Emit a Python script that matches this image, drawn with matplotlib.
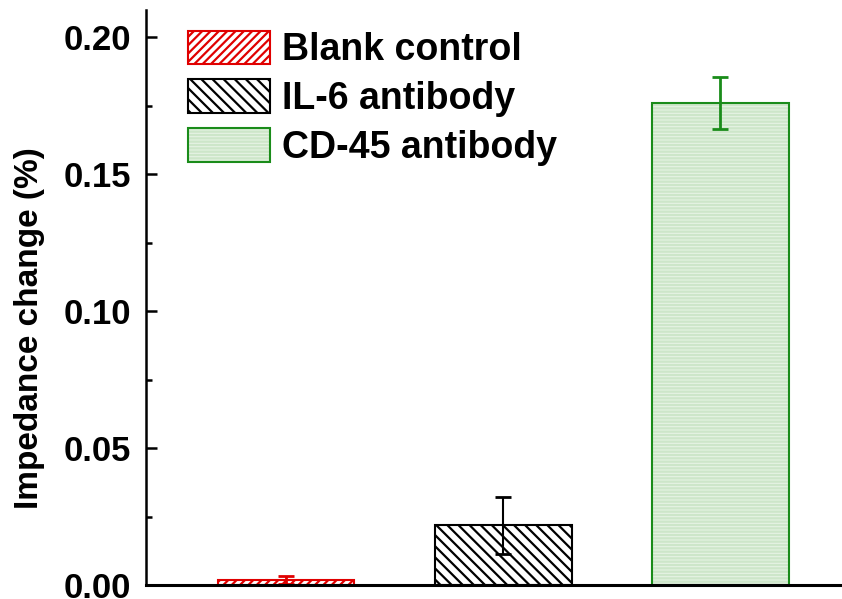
import numpy as np
import matplotlib
matplotlib.use("Agg")
import matplotlib.pyplot as plt
from matplotlib.patches import Patch
from matplotlib.legend_handler import HandlerTuple

# data
groups = ["Blank control", "IL-6 antibody", "CD-45 antibody"]
values = [0.0018, 0.0218, 0.176]
errors = [0.0015, 0.0105, 0.0095]
yticks = [0.00, 0.05, 0.10, 0.15, 0.20]

plt.rcParams['font.family'] = ['Liberation Sans', 'DejaVu Sans']
plt.rcParams['font.weight'] = 'bold'
plt.rcParams['hatch.linewidth'] = 1.6

fig = plt.figure(figsize=(8.42, 5.99), dpi=100)
ax = fig.add_axes([0.1734, 0.0234, 0.8266, 0.96])

x = np.arange(1, len(groups) + 1)
w = 0.63

# blank control - red hatch
ax.bar(x[0], values[0], w, facecolor='white', edgecolor='#e00000',
       hatch='////', linewidth=1.5)
ax.errorbar(x[0], values[0], yerr=errors[0], color='#e00000', capsize=6,
            elinewidth=2, capthick=2, fmt='none')

# IL-6 - black hatch
ax.bar(x[1], values[1], w, facecolor='white', edgecolor='black',
       hatch='\\\\\\', linewidth=1.5)
ax.errorbar(x[1], values[1], yerr=errors[1], color='black', capsize=6,
            elinewidth=1.5, capthick=2, fmt='none')

# CD-45 - light green, fine horizontal lines
ax.bar(x[2], values[2], w, facecolor='#e6f3e4', edgecolor='#cde6c9',
       hatch='-----', linewidth=0)
ax.bar(x[2], values[2], w, fill=False, edgecolor='#1a8c1a', linewidth=1.5)
ax.errorbar(x[2], values[2], yerr=errors[2], color='#1a8c1a', capsize=6,
            elinewidth=2, capthick=2, fmt='none')

ax.set_xlim(0.355, 3.56)
ax.set_ylim(0, 0.21)
ax.set_yticks(yticks)
ax.set_yticklabels(['%.2f' % t for t in yticks], fontsize=25, fontweight='bold')
ax.set_yticks(np.arange(0.025, 0.21, 0.05), minor=True)
ax.set_xticks([])
ax.tick_params(axis='y', which='major', direction='in', length=8, width=1.8, pad=11)
ax.tick_params(axis='y', which='minor', direction='in', length=4.5, width=1.8)
ax.spines['top'].set_visible(False)
ax.spines['right'].set_visible(False)
ax.spines['left'].set_linewidth(1.8)
ax.spines['bottom'].set_linewidth(2.2)
ax.set_ylabel('Impedance change (%)', fontsize=24, fontweight='bold')
ax.yaxis.set_label_coords(-0.145, 0.447)

h1 = Patch(facecolor='white', edgecolor='#e00000', hatch='////', linewidth=1.5)
h2 = Patch(facecolor='white', edgecolor='black', hatch='\\\\\\', linewidth=1.5)
h3a = Patch(facecolor='#e6f3e4', edgecolor='#cde6c9', hatch='-----', linewidth=0)
h3b = Patch(fill=False, edgecolor='#1a8c1a', linewidth=1.5)
fig.legend([h1, h2, (h3a, h3b)], groups, loc='upper left',
           bbox_to_anchor=(0.2233, 0.949), frameon=False,
           handlelength=2.19, handleheight=1.0, labelspacing=0.30,
           handletextpad=0.32, borderpad=0, borderaxespad=0,
           handler_map={tuple: HandlerTuple(ndivide=1)},
           prop={'weight': 'bold', 'size': 27})

fig.savefig('out.png', dpi=100)
